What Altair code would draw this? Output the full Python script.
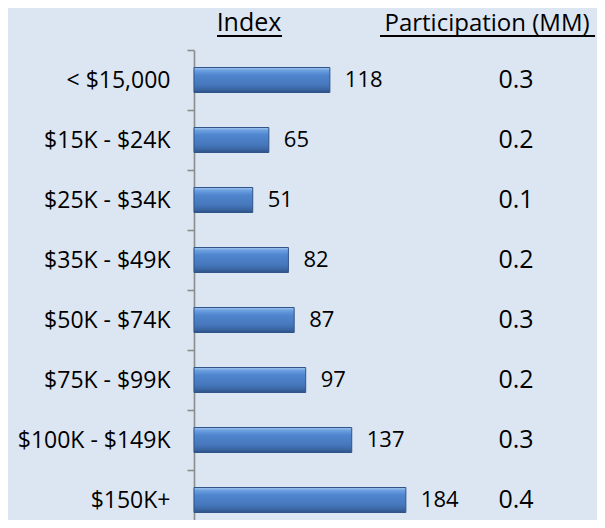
import altair as alt
import pandas as pd

categories = ["< $15,000", "$15K - $24K", "$25K - $34K", "$35K - $49K",
              "$50K - $74K", "$75K - $99K", "$100K - $149K", "$150K+"]
index_values = [118, 65, 51, 82, 87, 97, 137, 184]
participation = [0.3, 0.2, 0.1, 0.2, 0.3, 0.2, 0.3, 0.4]
headers = ["Index", "Participation (MM)"]

df = pd.DataFrame({"cat": categories, "index": index_values, "part": participation})

FONT = "Open Sans"
BG = "#DCE6F2"

y_enc = alt.Y("cat:N", sort=categories,
              scale=alt.Scale(range=[0, 480], paddingInner=0, paddingOuter=0),
              axis=alt.Axis(title=None, domainColor="#8C8C8C", tickColor="#8C8C8C",
                            domainWidth=1.6, tickWidth=1.6, tickSize=7, tickBand="extent",
                            labelFont=FONT, labelFontSize=23, labelColor="#000000",
                            labelPadding=17, grid=False))
x_enc = alt.X("index:Q", scale=alt.Scale(domain=[0, 350]), axis=None)

gradient = {
    "gradient": "linear", "x1": 0, "y1": 0, "x2": 0, "y2": 1,
    "stops": [
        {"offset": 0.0, "color": "#A4C6F0"},
        {"offset": 0.12, "color": "#6B9FE0"},
        {"offset": 0.3, "color": "#4F86CE"},
        {"offset": 0.7, "color": "#4677BC"},
        {"offset": 0.88, "color": "#3A65A2"},
        {"offset": 1.0, "color": "#2E5185"},
    ],
}

base = alt.Chart(df)

bars = base.mark_bar(height=25, color=gradient, stroke="#2F5488", strokeWidth=1).encode(
    x=x_enc, y=y_enc)

values = base.mark_text(align="left", baseline="middle", dx=15, font=FONT,
                        fontSize=22, color="#000000").encode(
    x=x_enc, y=y_enc, text=alt.Text("index:Q"))

parts = base.mark_text(align="center", baseline="middle", font=FONT,
                       fontSize=25, color="#000000").encode(
    x=alt.value(322), y=y_enc, text=alt.Text("part:Q", format=".1f"))

one = alt.Data(values=[{}])

h1 = alt.Chart(one).mark_text(text=headers[0], align="center", baseline="alphabetic",
                              font=FONT, fontSize=25, color="#000000").encode(
    x=alt.value(55), y=alt.value(-19))
h2 = alt.Chart(one).mark_text(text=headers[1], align="center", baseline="alphabetic",
                              font=FONT, fontSize=24, color="#000000").encode(
    x=alt.value(293), y=alt.value(-19))
u1 = alt.Chart(one).mark_rule(color="#000000", strokeWidth=2).encode(
    x=alt.value(23), x2=alt.value(88), y=alt.value(-14))
u2 = alt.Chart(one).mark_rule(color="#000000", strokeWidth=2).encode(
    x=alt.value(186), x2=alt.value(401), y=alt.value(-14))

chart = alt.layer(bars, values, parts, h1, h2, u1, u2).properties(
    width=403, height=470,
    autosize=alt.AutoSizeParams(type="none"),
    padding={"left": 186, "top": 42, "right": 0, "bottom": 0},
    background=BG,
).configure_view(stroke=None)

chart.save("out.html", embed_options={"renderer": "svg", "actions": False})
